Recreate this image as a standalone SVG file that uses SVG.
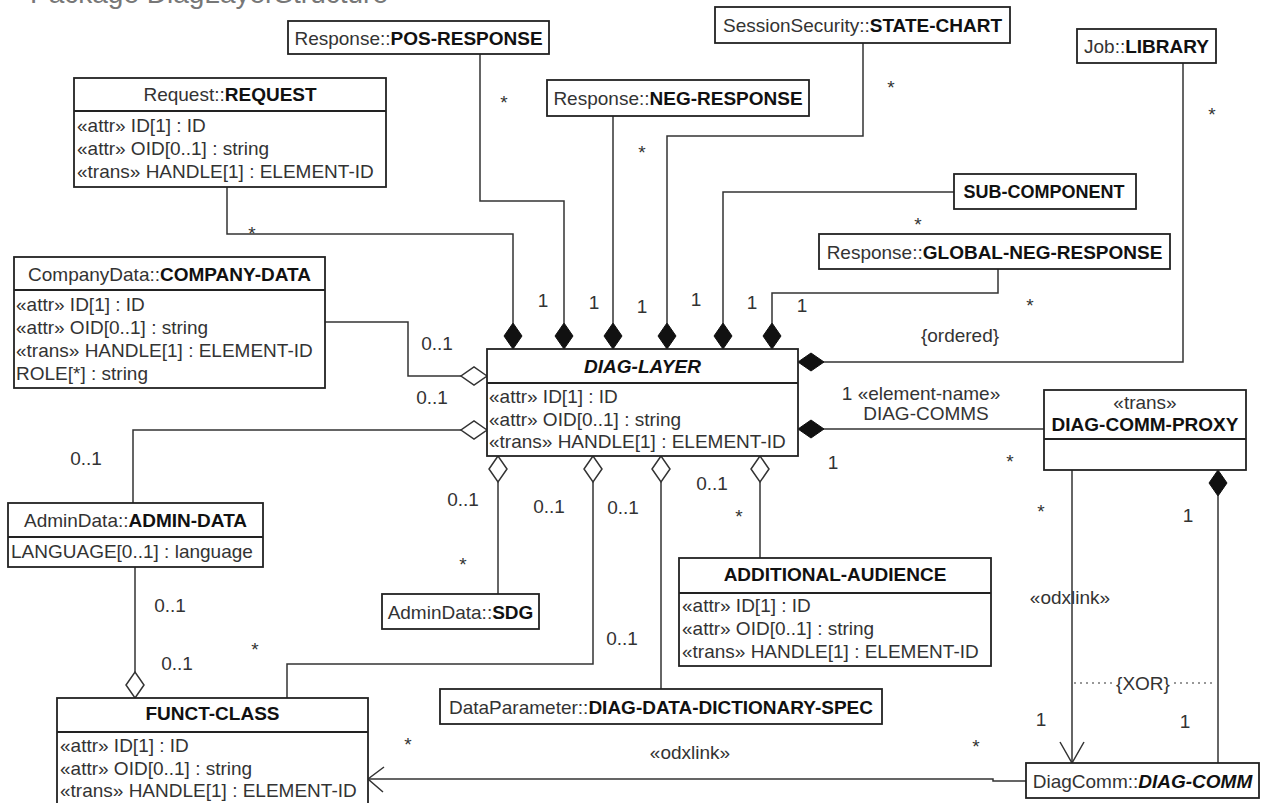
<svg xmlns="http://www.w3.org/2000/svg" width="1263" height="803" viewBox="0 0 1263 803">
<style>
text{font-family:"Liberation Sans",Arial,sans-serif;font-size:19px;fill:#333}
.b{font-weight:bold;fill:#111}
.bi{font-weight:bold;font-style:italic;fill:#111}
.box{fill:#fff;stroke:#222;stroke-width:1.8}
.ln{fill:none;stroke:#333;stroke-width:1.5}
.dot{fill:none;stroke:#777;stroke-width:1.5;stroke-dasharray:2 4}
.fd{fill:#111;stroke:#111;stroke-width:1}
.hd{fill:#fff;stroke:#333;stroke-width:1.5}
.m{text-anchor:middle}
.t{fill:#777;font-size:28px}
</style>
<defs>
<path id="dia" d="M0,0 L-13,-9 L-26,0 L-13,9 Z"/>
</defs>
<rect width="1263" height="803" fill="#fff"/>
<text class="t" x="30" y="3">Package DiagLayerStructure</text>

<g id="connectors">
<polyline class="ln" points="227,187 227,234 513,234 513,323"/>
<polyline class="ln" points="480,54 480,201 564,201 564,323"/>
<polyline class="ln" points="613,116 613,323"/>
<polyline class="ln" points="863,43 863,136 667,136 667,323"/>
<polyline class="ln" points="954,192 723,192 723,323"/>
<polyline class="ln" points="998,269 998,293 772,293 772,323"/>
<polyline class="ln" points="1183,63 1183,362 823,362"/>
<polyline class="ln" points="1044,429 823,429"/>
<polyline class="ln" points="318,322 408,322 408,376 461,376"/>
<polyline class="ln" points="133,503 133,430 461,430"/>
<polyline class="ln" points="498,594 498,482"/>
<polyline class="ln" points="287,698 287,664 593,664 593,482"/>
<polyline class="ln" points="661,689 661,482"/>
<polyline class="ln" points="760,558 760,482"/>
<polyline class="ln" points="135,567 135,672"/>
<polyline class="ln" points="1072,470 1072,763"/>
<polyline class="ln" points="1060,742 1072,763 1084,742"/>
<polyline class="ln" points="1218,496 1218,763"/>
<polyline class="ln" points="1026,781 993,781 993,779 368,779"/>
<polyline class="ln" points="384,767 368,779 383,792"/>
<line class="dot" x1="1074" y1="683" x2="1114" y2="683"/>
<line class="dot" x1="1174" y1="683" x2="1216" y2="683"/>
<use href="#dia" class="fd" transform="translate(513,349) rotate(90)"/>
<use href="#dia" class="fd" transform="translate(564,349) rotate(90)"/>
<use href="#dia" class="fd" transform="translate(613,349) rotate(90)"/>
<use href="#dia" class="fd" transform="translate(667,349) rotate(90)"/>
<use href="#dia" class="fd" transform="translate(723,349) rotate(90)"/>
<use href="#dia" class="fd" transform="translate(772,349) rotate(90)"/>
<use href="#dia" class="fd" transform="translate(798,362) rotate(180)"/>
<use href="#dia" class="fd" transform="translate(798,429) rotate(180)"/>
<use href="#dia" class="hd" transform="translate(487,376)"/>
<use href="#dia" class="hd" transform="translate(487,430)"/>
<use href="#dia" class="hd" transform="translate(498,456) rotate(-90)"/>
<use href="#dia" class="hd" transform="translate(593,456) rotate(-90)"/>
<use href="#dia" class="hd" transform="translate(661,456) rotate(-90)"/>
<use href="#dia" class="hd" transform="translate(760,456) rotate(-90)"/>
<use href="#dia" class="hd" transform="translate(135,698) rotate(90)"/>
<use href="#dia" class="fd" transform="translate(1218,470) rotate(-90)"/>
</g>

<g id="labels">
<text x="252" y="240" class="m">*</text>
<text x="504" y="109" class="m">*</text>
<text x="642" y="159" class="m">*</text>
<text x="891" y="94" class="m">*</text>
<text x="1212" y="121" class="m">*</text>
<text x="918" y="231" class="m">*</text>
<text x="1030" y="312" class="m">*</text>
<text x="1010" y="468" class="m">*</text>
<text x="1041" y="518" class="m">*</text>
<text x="739" y="523" class="m">*</text>
<text x="463" y="571" class="m">*</text>
<text x="255" y="656" class="m">*</text>
<text x="408" y="751" class="m">*</text>
<text x="976" y="753" class="m">*</text>
<text x="543" y="307" class="m">1</text>
<text x="594" y="309" class="m">1</text>
<text x="642" y="313" class="m">1</text>
<text x="696" y="306" class="m">1</text>
<text x="752" y="309" class="m">1</text>
<text x="802" y="312" class="m">1</text>
<text x="833" y="469" class="m">1</text>
<text x="1188" y="522" class="m">1</text>
<text x="1041" y="726" class="m">1</text>
<text x="1185" y="728" class="m">1</text>
<text x="437" y="350" class="m">0..1</text>
<text x="432" y="404" class="m">0..1</text>
<text x="86" y="465" class="m">0..1</text>
<text x="170" y="612" class="m">0..1</text>
<text x="177" y="670" class="m">0..1</text>
<text x="463" y="506" class="m">0..1</text>
<text x="549" y="513" class="m">0..1</text>
<text x="623" y="514" class="m">0..1</text>
<text x="712" y="490" class="m">0..1</text>
<text x="622" y="645" class="m">0..1</text>
<text x="960" y="342" class="m">{ordered}</text>
<text x="921" y="400" class="m">1 «element-name»</text>
<text x="926" y="420" class="m">DIAG-COMMS</text>
<text x="1070" y="604" class="m">«odxlink»</text>
<text x="690" y="759" class="m">«odxlink»</text>
<text x="1143" y="690" class="m">{XOR}</text>
</g>

<g id="pos-response">
<rect class="box" x="288" y="21" width="261" height="33"/>
<text x="418.5" y="44.5" class="m">Response::<tspan class="b">POS-RESPONSE</tspan></text>
</g>
<g id="neg-response">
<rect class="box" x="547" y="80" width="262" height="36"/>
<text x="678" y="105" class="m">Response::<tspan class="b">NEG-RESPONSE</tspan></text>
</g>
<g id="state-chart">
<rect class="box" x="715" y="7" width="295" height="36"/>
<text x="862.5" y="32" class="m">SessionSecurity::<tspan class="b">STATE-CHART</tspan></text>
</g>
<g id="library">
<rect class="box" x="1077" y="29" width="139" height="34"/>
<text x="1146.5" y="53" class="m">Job::<tspan class="b">LIBRARY</tspan></text>
</g>
<g id="sub-component">
<rect class="box" x="954" y="174" width="182" height="35"/>
<text x="1044" y="198" class="m b" style="font-size:18px">SUB-COMPONENT</text>
</g>
<g id="global-neg-response">
<rect class="box" x="819" y="234" width="351" height="35"/>
<text x="994.5" y="258.5" class="m">Response::<tspan class="b">GLOBAL-NEG-RESPONSE</tspan></text>
</g>
<g id="request">
<rect class="box" x="74" y="78" width="312" height="109"/>
<line class="ln" x1="74" y1="111" x2="386" y2="111" style="stroke:#222;stroke-width:1.8"/>
<text x="230" y="101" class="m">Request::<tspan class="b">REQUEST</tspan></text>
<text x="77" y="132">«attr» ID[1] : ID</text>
<text x="77" y="155">«attr» OID[0..1] : string</text>
<text x="77" y="178">«trans» HANDLE[1] : ELEMENT-ID</text>
</g>
<g id="company-data">
<rect class="box" x="14" y="257" width="311" height="131"/>
<line class="ln" x1="14" y1="290" x2="325" y2="290" style="stroke:#222;stroke-width:1.8"/>
<text x="169.5" y="281" class="m">CompanyData::<tspan class="b">COMPANY-DATA</tspan></text>
<text x="16" y="311">«attr» ID[1] : ID</text>
<text x="16" y="334">«attr» OID[0..1] : string</text>
<text x="16" y="357">«trans» HANDLE[1] : ELEMENT-ID</text>
<text x="16" y="380">ROLE[*] : string</text>
</g>
<g id="diag-layer">
<rect class="box" x="487" y="349" width="311" height="107"/>
<line class="ln" x1="487" y1="383" x2="798" y2="383" style="stroke:#222;stroke-width:1.8"/>
<text x="642.5" y="373" class="m bi">DIAG-LAYER</text>
<text x="489" y="403">«attr» ID[1] : ID</text>
<text x="489" y="426">«attr» OID[0..1] : string</text>
<text x="489" y="448">«trans» HANDLE[1] : ELEMENT-ID</text>
</g>
<g id="diag-comm-proxy">
<rect class="box" x="1044" y="390" width="202" height="80"/>
<line class="ln" x1="1044" y1="439" x2="1246" y2="439" style="stroke:#222;stroke-width:1.8"/>
<text x="1145" y="409" class="m">«trans»</text>
<text x="1145" y="431" class="m b">DIAG-COMM-PROXY</text>
</g>
<g id="admin-data">
<rect class="box" x="8" y="503" width="255" height="64"/>
<line class="ln" x1="8" y1="537" x2="263" y2="537" style="stroke:#222;stroke-width:1.8"/>
<text x="135.5" y="527" class="m">AdminData::<tspan class="b">ADMIN-DATA</tspan></text>
<text x="11" y="558">LANGUAGE[0..1] : language</text>
</g>
<g id="sdg">
<rect class="box" x="382" y="594" width="157" height="35"/>
<text x="460.5" y="618.5" class="m">AdminData::<tspan class="b">SDG</tspan></text>
</g>
<g id="additional-audience">
<rect class="box" x="679" y="558" width="312" height="108"/>
<line class="ln" x1="679" y1="593" x2="991" y2="593" style="stroke:#222;stroke-width:1.8"/>
<text x="835" y="581" class="m b">ADDITIONAL-AUDIENCE</text>
<text x="682" y="612">«attr» ID[1] : ID</text>
<text x="682" y="635">«attr» OID[0..1] : string</text>
<text x="682" y="658">«trans» HANDLE[1] : ELEMENT-ID</text>
</g>
<g id="diag-data-dictionary-spec">
<rect class="box" x="440" y="689" width="442" height="35"/>
<text x="661" y="713.5" class="m">DataParameter::<tspan class="b">DIAG-DATA-DICTIONARY-SPEC</tspan></text>
</g>
<g id="funct-class">
<rect class="box" x="57" y="698" width="311" height="112"/>
<line class="ln" x1="57" y1="732" x2="368" y2="732" style="stroke:#222;stroke-width:1.8"/>
<text x="212.5" y="720" class="m b">FUNCT-CLASS</text>
<text x="60" y="752">«attr» ID[1] : ID</text>
<text x="60" y="775">«attr» OID[0..1] : string</text>
<text x="60" y="797">«trans» HANDLE[1] : ELEMENT-ID</text>
</g>
<g id="diag-comm">
<rect class="box" x="1026" y="763" width="233" height="35"/>
<text x="1142.5" y="787.5" class="m">DiagComm::<tspan class="bi">DIAG-COMM</tspan></text>
</g>
</svg>
